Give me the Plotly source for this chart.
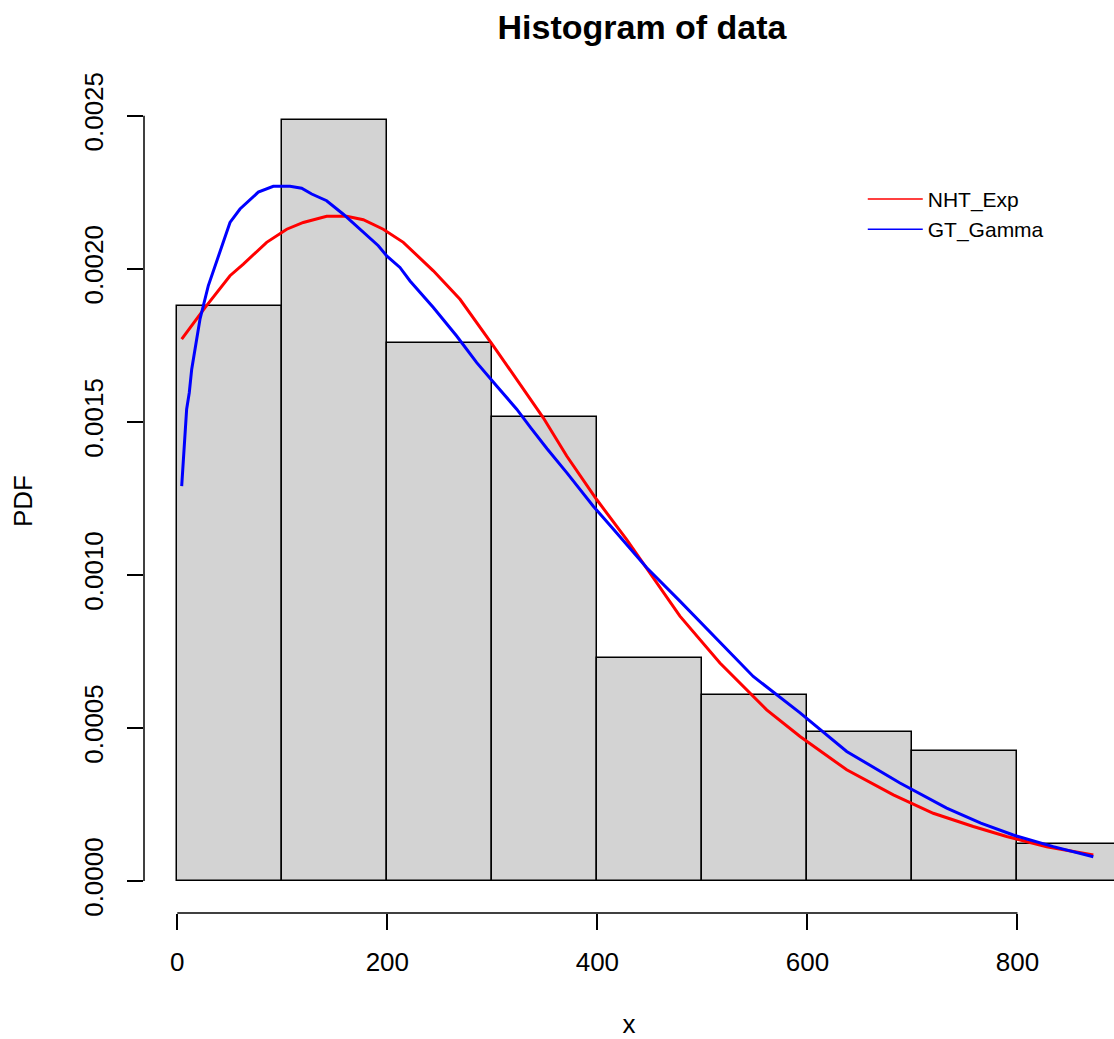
import plotly.graph_objects as go

# ---- data ----
breaks = [0, 100, 200, 300, 400, 500, 600, 700, 800, 900]
density = [0.001879, 0.002485, 0.001758, 0.001515, 0.000727,
           0.000606, 0.000485, 0.000424, 0.000121]

nht_x = [4.2, 12.1, 26.4, 50.2, 62.9, 85.1, 104.2, 120, 142.2, 161.3, 177.1,
         196.1, 215.2, 243.8, 269.2, 300.9, 323.2, 348.5, 370.8, 386.4, 399.3,
         427.9, 456.5, 478.6, 516.7, 561.2, 593, 637.4, 681.8, 719.8, 757.9,
         789.7, 827.8, 872.2]
nht_y = [0.001770, 0.001808, 0.001873, 0.001977, 0.002015, 0.002086, 0.002129,
         0.002151, 0.002171, 0.002171, 0.002160, 0.002129, 0.002086, 0.001993,
         0.001900, 0.001748, 0.001639, 0.001513, 0.001388, 0.001312, 0.001246,
         0.001115, 0.000975, 0.000865, 0.000712, 0.000559, 0.000472, 0.000363,
         0.000281, 0.000221, 0.000178, 0.000145, 0.000112, 0.000085]

gt_x = [4.2, 8.9, 11.4, 13.7, 21.6, 29.5, 50.2, 59.7, 77.1, 91.4, 107.3, 118.4,
        128, 142.2, 158.1, 177.1, 191.4, 199.4, 212, 221.6, 243.8, 266, 285.1,
        304.1, 323.2, 336.6, 352.1, 370.8, 383.3, 396.1, 415.1, 427.9, 447,
        478.6, 516.7, 548.4, 593, 637.4, 688.1, 732.6, 765.1, 796, 834.1, 872.2]
gt_y = [0.001290, 0.001541, 0.001595, 0.001671, 0.001835, 0.001944, 0.002151,
        0.002195, 0.002250, 0.002269, 0.002269, 0.002263, 0.002244, 0.002222,
        0.002178, 0.002119, 0.002075, 0.002042, 0.002004, 0.001960, 0.001873,
        0.001780, 0.001693, 0.001617, 0.001541, 0.001480, 0.001412, 0.001334,
        0.001279, 0.001224, 0.001150, 0.001100, 0.001023, 0.000914, 0.000778,
        0.000668, 0.000549, 0.000423, 0.000320, 0.000238, 0.000189, 0.000150,
        0.000112, 0.000079]

x_ticks = [0, 200, 400, 600, 800]
y_ticks = [0.0, 0.0005, 0.0010, 0.0015, 0.0020, 0.0025]
y_ticktext = ["0.0000", "0.0005", "0.0010", "0.0015", "0.0020", "0.0025"]

FONT = "Liberation Sans, Arial, Helvetica, sans-serif"

centers = [(a + b) / 2 for a, b in zip(breaks[:-1], breaks[1:])]
widths = [b - a for a, b in zip(breaks[:-1], breaks[1:])]

fig = go.Figure()
fig.add_trace(go.Bar(x=centers, y=density, width=widths,
                     marker=dict(color="#D3D3D3", line=dict(color="black", width=1.5)),
                     showlegend=False, name="data"))
fig.add_trace(go.Scatter(x=nht_x, y=nht_y, mode="lines", line=dict(color="red", width=3),
                         showlegend=False, name="NHT_Exp"))
fig.add_trace(go.Scatter(x=gt_x, y=gt_y, mode="lines", line=dict(color="blue", width=3),
                         showlegend=False, name="GT_Gamma"))
# legend entries (thin lines, as in the reference)
fig.add_trace(go.Scatter(x=[None], y=[None], mode="lines", line=dict(color="red", width=1.5),
                         name="NHT_Exp"))
fig.add_trace(go.Scatter(x=[None], y=[None], mode="lines", line=dict(color="blue", width=1.5),
                         name="GT_Gamma"))

# R-style detached axis lines spanning first..last tick
fig.add_shape(type="line", xref="x", yref="paper", x0=x_ticks[0], x1=x_ticks[-1], y0=0, y1=0,
              line=dict(color="black", width=1.5))
fig.add_shape(type="line", xref="paper", yref="y", x0=0, x1=0, y0=y_ticks[0], y1=y_ticks[-1],
              line=dict(color="black", width=1.5))

fig.update_layout(
    width=1114, height=1039,
    margin=dict(l=144, r=0, t=89, b=126),
    paper_bgcolor="white", plot_bgcolor="white",
    font=dict(family=FONT, size=26, color="black"),
    title=dict(text="<b>Histogram of data</b>", x=642 / 1114, xanchor="center",
               xref="container", yref="container", y=1 - 27 / 1039, yanchor="middle",
               font=dict(size=34, family=FONT, color="black")),
    bargap=0,
    legend=dict(x=0.741, y=0.891, xanchor="left", yanchor="top", itemwidth=55,
                bgcolor="rgba(0,0,0,0)", font=dict(size=21, family=FONT, color="black")),
    xaxis=dict(range=[-31.7, 891.9], tickvals=x_ticks, showgrid=False, zeroline=False,
               showline=False, ticks="outside", ticklen=16, tickwidth=1.5, tickcolor="black",
               ticklabelstandoff=10, automargin=False,
               title=dict(text="x", standoff=50, font=dict(size=26))),
    yaxis=dict(range=[-0.0001047, 0.002587], tickvals=y_ticks, ticktext=y_ticktext,
               showgrid=False, zeroline=False, showline=False, ticks="outside", ticklen=16,
               tickwidth=1.5, tickcolor="black", tickangle=-90, ticklabelstandoff=14,
               automargin=False,
               title=dict(text="PDF", standoff=38, font=dict(size=26))),
)

fig.write_html("out.html")
